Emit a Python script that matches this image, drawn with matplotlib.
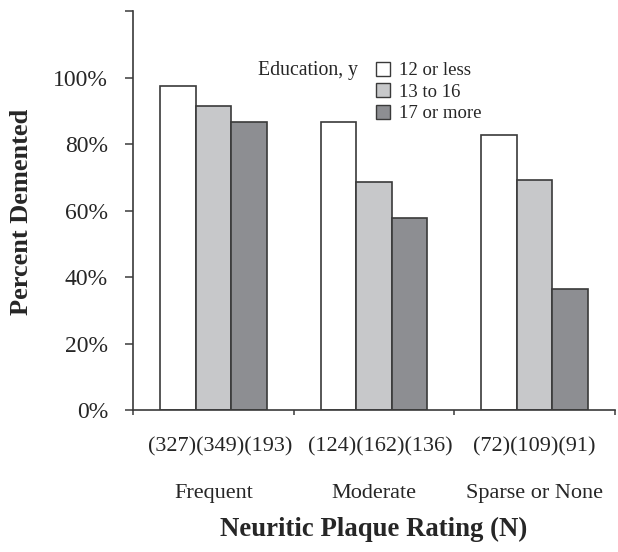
import matplotlib.pyplot as plt
from matplotlib.patches import Patch
from matplotlib.transforms import blended_transform_factory

# Data
groups = ['Frequent', 'Moderate', 'Sparse or None']
group_n = ['(327)(349)(193)', '(124)(162)(136)', '(72)(109)(91)']
education = ['12 or less', '13 to 16', '17 or more']
pct_12_or_less = [97.6, 86.6, 82.8]
pct_13_to_16 = [91.4, 68.7, 69.3]
pct_17_or_more = [86.7, 57.9, 36.4]
yticks = [0, 20, 40, 60, 80, 100, 120]
ytick_labels = ['0%', '20%', '40%', '60%', '80%', '100%', '']

plt.rcParams['font.family'] = ['Liberation Serif', 'DejaVu Serif']
ink = '#262626'
edge = '#3a3a3a'
colors = ['#ffffff', '#c7c8ca', '#8d8e92']

fig = plt.figure(figsize=(6.18, 5.52), dpi=100)
ax = fig.add_axes([0.2152, 0.2572, 0.7798, 0.7228])

width = 0.221
series = [pct_12_or_less, pct_13_to_16, pct_17_or_more]
for k, (vals, c, lab) in enumerate(zip(series, colors, education)):
    xs = [i + (k - 1) * width for i in range(len(groups))]
    ax.bar(xs, vals, width=width, color=c, edgecolor=edge, linewidth=1.2, label=lab)

ax.set_xlim(-0.5, 2.5)
ax.set_ylim(0, 120)
ax.set_yticks(yticks)
ax.set_yticklabels(ytick_labels, fontsize=17, color=ink)
ax.set_xticks([-0.5, 0.5, 1.5, 2.5])
ax.set_xticklabels([])
ax.tick_params(axis='y', direction='out', length=6, width=1.1, color=edge, pad=12)
ax.tick_params(axis='x', direction='out', length=3.6, width=1.1, color=edge)
for s in ['top', 'right']:
    ax.spines[s].set_visible(False)
for s in ['left', 'bottom']:
    ax.spines[s].set_color(edge)
    ax.spines[s].set_linewidth(1.2)

# sample-size labels sit a bit right of centre in the first two groups
n_shift = [0.04, 0.04, 0.0]
trans = blended_transform_factory(ax.transData, ax.transAxes)
for i in range(len(groups)):
    ax.text(i + n_shift[i], -0.093, group_n[i], transform=trans, ha='center',
            va='center', fontsize=16, color=ink)
    ax.text(i, -0.208, groups[i], transform=trans, ha='center', va='center',
            fontsize=16, color=ink)
ax.text(0.5, -0.30, 'Neuritic Plaque Rating (N)', transform=ax.transAxes,
        ha='center', va='center', fontsize=19.3, fontweight='bold', color=ink)
fig.text(0.034, 0.616, 'Percent Demented', rotation=90, ha='center', va='center',
         fontsize=19, fontweight='bold', color=ink)

# Legend
handles = [Patch(facecolor=c, edgecolor=edge, linewidth=1.0) for c in colors]
fig.legend(handles, education, loc='upper left', bbox_to_anchor=(0.609, 0.888),
           frameon=False, fontsize=13.5, handlelength=0.75, handleheight=0.75,
           handletextpad=0.45, labelspacing=0.22, borderpad=0, borderaxespad=0,
           labelcolor=ink)
fig.text(358 / 618, 1 - 70 / 552, 'Education, y', ha='right', va='center',
         fontsize=14.2, color=ink)

fig.savefig('out.png', dpi=100)
